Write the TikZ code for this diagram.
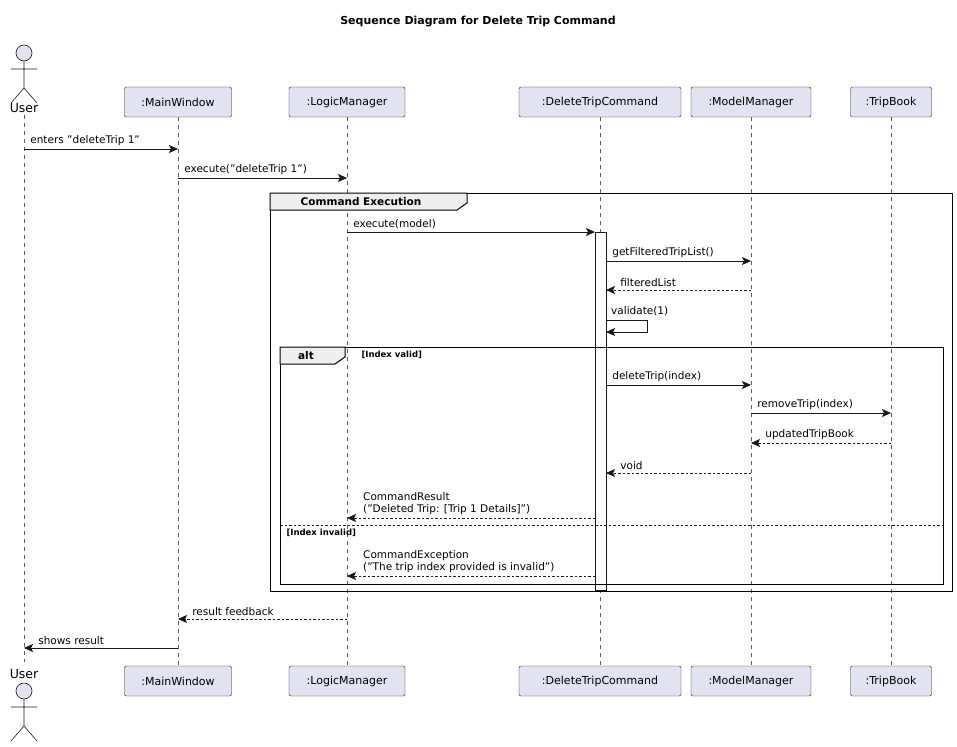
\documentclass[tikz,border=0pt]{standalone}
\usepackage{fontspec}
\setmainfont{DejaVu Sans}[Ligatures=ResetAll]
\usetikzlibrary{arrows.meta}
\definecolor{pbox}{HTML}{E2E2F0}
\definecolor{pline}{HTML}{181818}
\definecolor{ghead}{HTML}{EEEEEE}
\newcommand{\q}{\symbol{34}}
\begin{document}
\begin{tikzpicture}[x=1pt,y=-1pt,
 part/.style={draw=pline,fill=pbox,rounded corners=2pt,minimum height=30pt,inner xsep=0pt,font=\fontsize{11}{13}\selectfont},
 life/.style={draw=pline!70,dash pattern=on 4pt off 4pt,line width=0.5pt},
 msg/.style={draw=pline,line width=0.7pt,-{Stealth[length=9pt,width=8pt,inset=2pt]}},
 ret/.style={msg,dash pattern=on 2.5pt off 2pt},
 lbl/.style={font=\fontsize{10.5}{12.5}\selectfont,anchor=south west,inner sep=1pt},
 frame/.style={draw=black,line width=1pt},
 actorlbl/.style={font=\fontsize{12.5}{14}\selectfont}]
\useasboundingbox (0,0) rectangle (957,746);
\fill[white] (0,0) rectangle (957,746);
\node[font=\bfseries\fontsize{11}{13}\selectfont] (title) at (478,22) {Sequence Diagram for Delete Trip Command};
\foreach \n/\x in {u/24,mw/178,lm/347,dc/600,mm/751,tb/891}{
 \coordinate (\n t) at (\x,117); \coordinate (\n b) at (\x,666);}
\coordinate (ut) at (24,115);
\coordinate (ub) at (24,662);
\foreach \n in {u,mw,lm,dc,mm,tb}{\draw[life] (\n t) -- (\n b);}
\node[part,minimum width=107pt] (mwtop) at (178,102) {:MainWindow};
\node[part,minimum width=107pt] (mwbot) at (178,681) {:MainWindow};
\node[part,minimum width=116pt] (lmtop) at (347,102) {:LogicManager};
\node[part,minimum width=116pt] (lmbot) at (347,681) {:LogicManager};
\node[part,minimum width=162pt] (dctop) at (600,102) {:DeleteTripCommand};
\node[part,minimum width=162pt] (dcbot) at (600,681) {:DeleteTripCommand};
\node[part,minimum width=120pt] (mmtop) at (751,102) {:ModelManager};
\node[part,minimum width=120pt] (mmbot) at (751,681) {:ModelManager};
\node[part,minimum width=81pt] (tbtop) at (891,102) {:TripBook};
\node[part,minimum width=81pt] (tbbot) at (891,681) {:TripBook};
\tikzset{actor/.pic={
 \draw[pline,fill=pbox,line width=0.6pt] (0,0) circle (8);
 \draw[pline,line width=0.6pt] (0,8) -- (0,35) (-13,16) -- (13,16) (-13,50) -- (0,35) -- (13,50);}}
\pic at (24,53) {actor};
\node[actorlbl] (utop) at (24,108) {User};
\node[actorlbl] (ubot) at (24,674) {User};
\pic at (24,691) {actor};
\draw[frame] (270,193) rectangle (952,591);
\draw[frame,fill=ghead] (270,193) -- (467,193) -- (467,203) -- (457,210) -- (270,210) -- cycle;
\node[font=\bfseries\fontsize{10.5}{12}\selectfont] (gl) at (361,202) {Command Execution};
\draw[pline,fill=white,line width=0.6pt] (595,232) rectangle (606,590);
\draw[frame] (280,347) rectangle (943,584);
\draw[frame,fill=ghead] (280,347) -- (345,347) -- (345,357) -- (335,364) -- (280,364) -- cycle;
\node[font=\bfseries\fontsize{10.5}{12}\selectfont] (altl) at (306,356) {alt};
\node[font=\bfseries\fontsize{8.5}{10}\selectfont,anchor=west] (g1) at (358,355) {[Index valid]};
\draw[pline,dash pattern=on 2.5pt off 2pt,line width=0.6pt] (280,525) -- (943,525);
\node[font=\bfseries\fontsize{8.5}{10}\selectfont,anchor=west] (g2) at (283,533) {[Index invalid]};
\draw[msg] (24,149) -- node[lbl,at start,xshift=5pt,yshift=2pt] (m1) {enters \q deleteTrip 1\q} (178,149);
\draw[msg] (178,178) -- node[lbl,at start,xshift=5pt,yshift=2pt] (m2) {execute(\q deleteTrip 1\q)} (347,178);
\draw[msg] (347,232) -- node[lbl,at start,xshift=5pt,yshift=2pt] (m3) {execute(model)} (595,232);
\draw[msg] (606,261) -- node[lbl,at start,xshift=5pt,yshift=2pt] (m4) {getFilteredTripList()} (751,261);
\draw[ret] (751,290) -- node[lbl,at end,xshift=13pt,yshift=2pt] (m5) {filteredList} (606,290);
\draw[msg] (606,320) -- (647,320) -- (647,332) -- (606,332);
\node[lbl] (m6) at (610,317) {validate(1)};
\draw[msg] (606,385) -- node[lbl,at start,xshift=5pt,yshift=2pt] (m7) {deleteTrip(index)} (751,385);
\draw[msg] (751,413) -- node[lbl,at start,xshift=5pt,yshift=2pt] (m8) {removeTrip(index)} (891,413);
\draw[ret] (891,443) -- node[lbl,at end,xshift=13pt,yshift=2pt] (m9) {updatedTripBook} (751,443);
\draw[ret] (751,473) -- node[lbl,at end,xshift=13pt,yshift=2pt] (m10) {void} (606,473);
\draw[ret] (595,518) -- (347,518);
\node[lbl,align=left] (m11) at (362,516) {CommandResult\\(\q Deleted Trip: [Trip 1 Details]\q)};
\draw[ret] (595,576) -- (347,576);
\node[lbl,align=left] (m12) at (362,574) {CommandException\\(\q The trip index provided is invalid\q)};
\draw[ret] (347,619) -- node[lbl,at end,xshift=13pt,yshift=2pt] (m13) {result feedback} (178,619);
\draw[msg] (178,648) -- node[lbl,at end,xshift=13pt,yshift=2pt] (m14) {shows result} (24,648);
\end{tikzpicture}
\end{document}
